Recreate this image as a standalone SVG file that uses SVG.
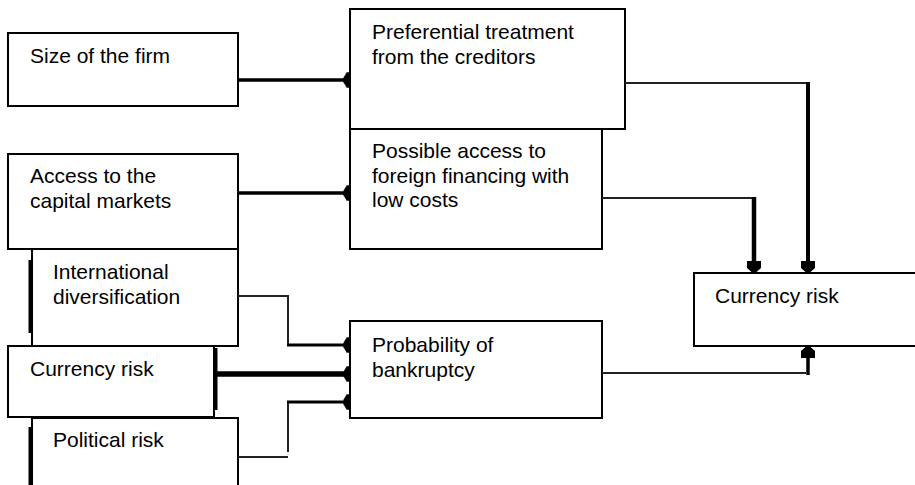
<svg xmlns="http://www.w3.org/2000/svg" width="915" height="485" viewBox="0 0 915 485">
<style>
.box{fill:#fff;stroke:#000;stroke-width:2}
.t{font-family:"Liberation Sans",Arial,sans-serif;font-size:21px;fill:#000}
.thin{fill:none;stroke:#222;stroke-width:2}
.thk{fill:none;stroke:#000;stroke-width:3.5}
.bar{fill:none;stroke:#000;stroke-width:3}
</style>
<defs>
<marker id="hs" markerUnits="userSpaceOnUse" orient="auto" refX="0" refY="0" markerWidth="12" markerHeight="20" viewBox="-6 -9 7 18" overflow="visible">
<path d="M-5,-2 L-2,-7 L0,-7 L0,7 L-2,7 L-5,2 Z" fill="#000"/>
</marker>
<marker id="hb" markerUnits="userSpaceOnUse" orient="auto" refX="0" refY="0" markerWidth="14" markerHeight="16" viewBox="-12 -8 13 16" overflow="visible">
<path d="M-11,-2.5 L-11,-7 L-4,-7 L0,-2.5 L0,2.5 L-4,7 L-11,7 L-11,2.5 Z" fill="#000"/>
</marker>
</defs>
<g id="size"><rect class="box" x="8" y="33" width="230" height="73"/><text class="t" x="30" y="63">Size of the firm</text></g>
<g id="access"><rect class="box" x="8" y="154" width="230" height="95"/><text class="t" x="30" y="183">Access to the</text><text class="t" x="30" y="208">capital markets</text></g>
<g id="international"><rect class="box" x="32" y="249" width="206" height="97"/><line class="bar" x1="30" y1="260" x2="30" y2="333"/><text class="t" x="53" y="279">International</text><text class="t" x="53" y="304">diversification</text></g>
<g id="currency-left"><rect class="box" x="8" y="346" width="206" height="71"/><line class="bar" x1="216" y1="348" x2="216" y2="410"/><text class="t" x="30" y="376">Currency risk</text></g>
<g id="political"><rect class="box" x="32" y="418" width="206" height="80"/><line class="bar" x1="30" y1="427" x2="30" y2="485"/><text class="t" x="53" y="447">Political risk</text></g>
<g id="preferential"><rect class="box" x="350" y="9" width="275" height="120"/><text class="t" x="372" y="39">Preferential treatment</text><text class="t" x="372" y="64">from the creditors</text></g>
<g id="possible"><rect class="box" x="350" y="129" width="252" height="120"/><text class="t" x="372" y="158">Possible access to</text><text class="t" x="372" y="183">foreign financing with</text><text class="t" x="372" y="207">low costs</text></g>
<g id="probability"><rect class="box" x="350" y="321" width="252" height="97"/><text class="t" x="372" y="352">Probability of</text><text class="t" x="372" y="377">bankruptcy</text></g>
<g id="currency-right"><rect class="box" x="694" y="273" width="240" height="73"/><text class="t" x="715" y="303">Currency risk</text></g>
<g id="connectors">
<path class="thk" d="M238,80 H349" marker-end="url(#hs)"/>
<path class="thk" d="M238,193 H349" marker-end="url(#hs)"/>
<path class="thin" d="M625,83 H809"/>
<path class="thk" d="M808,82 V272" style="stroke-width:4" marker-end="url(#hb)"/>
<path class="thin" d="M602,198 H755"/>
<path class="thk" d="M754,197 V272" style="stroke-width:4.5" marker-end="url(#hb)"/>
<path class="thin" d="M238,296 H288 V345"/>
<path class="thk" d="M287,345 H349" style="stroke-width:3" marker-end="url(#hs)"/>
<path class="thk" d="M216,374 H349" style="stroke-width:5.5" marker-end="url(#hs)"/>
<path class="thin" d="M238,457 H288"/>
<path class="thin" d="M288,452 V402"/>
<path class="thk" d="M287,402 H349" style="stroke-width:3" marker-end="url(#hs)"/>
<path class="thin" d="M602,373 H806"/>
<path class="thk" d="M808,375 V347" style="stroke-width:3.5" marker-end="url(#hb)"/>
</g>
</svg>
